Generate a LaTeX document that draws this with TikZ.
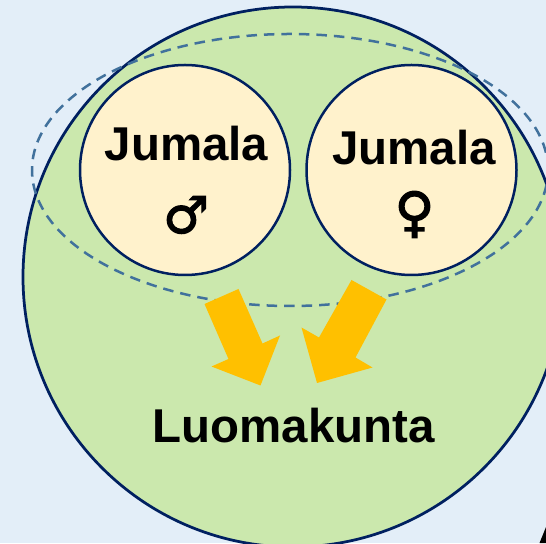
\documentclass[tikz,border=0pt]{standalone}
\usepackage{fontspec}
\setmainfont{Liberation Sans}
\newfontfamily\symbolfont[FakeBold=2.2]{DejaVu Sans}
\usetikzlibrary{shapes,positioning}
\definecolor{skyback}{HTML}{E3EEF8}
\definecolor{leafgreen}{HTML}{CBE8AD}
\definecolor{creamfill}{HTML}{FFF2CC}
\definecolor{navyline}{HTML}{002060}
\definecolor{dashblue}{HTML}{41719C}
\definecolor{arrowgold}{HTML}{FFC000}
\tikzset{
    godcircle/.style={circle, draw=navyline, fill=creamfill, line width=0.05cm, minimum size=4.2cm, inner sep=0pt},
    godtext/.style={anchor=base, font=\fontsize{27}{30}\selectfont\bfseries, inner sep=0pt},
    gendermark/.style={font=\fontsize{#1}{33}\selectfont\symbolfont\bfseries, inner sep=0pt},
    blockarrow/.style={fill=arrowgold, draw=none}
}
\begin{document}
\begin{tikzpicture}
        \useasboundingbox[fill=skyback] (0,0) rectangle (10.92,10.86);

        % Creation
        \node[circle, draw=navyline, fill=leafgreen, line width=0.055cm, minimum size=10.80cm, inner sep=0pt] (creation) at (5.86,5.32) {};
        \node[ellipse, draw=dashblue, line width=0.05cm, dash pattern=on 0.21cm off 0.14cm, minimum width=10.32cm, minimum height=5.44cm, inner sep=0pt] (unity) at (5.80,7.46) {};

        % Gods
        \node[godcircle] (godmale) at (3.70,7.46) {};
        \node[godcircle] (godfemale) at (8.23,7.46) {};
        \node[godtext] (malename) at (3.73,7.64) {Jumala};
        \node[godtext] (femalename) at (8.28,7.56) {Jumala};
        \node[gendermark=29] (malemark) at (3.72,6.56) {♂};
        \node[gendermark=31] (femalemark) at (8.29,6.57) {♀};

        % Arrows
        \fill[blockarrow] (4.09,4.78) -- (4.77,5.08) -- (5.25,3.99) -- (5.60,4.15) -- (5.21,3.15) -- (4.23,3.53) -- (4.57,3.68) -- cycle;
        \fill[blockarrow] (7.03,5.26) -- (7.73,4.87) -- (7.11,3.71) -- (7.45,3.51) -- (6.34,3.20) -- (6.03,4.31) -- (6.38,4.11) -- cycle;

        \node[godtext] (creationname) at (5.87,2.00) {Luomakunta};

        % Corner
        \fill[black] (10.79,0) -- (10.92,0.32) -- (10.92,0) -- cycle;
\end{tikzpicture}
\end{document}
